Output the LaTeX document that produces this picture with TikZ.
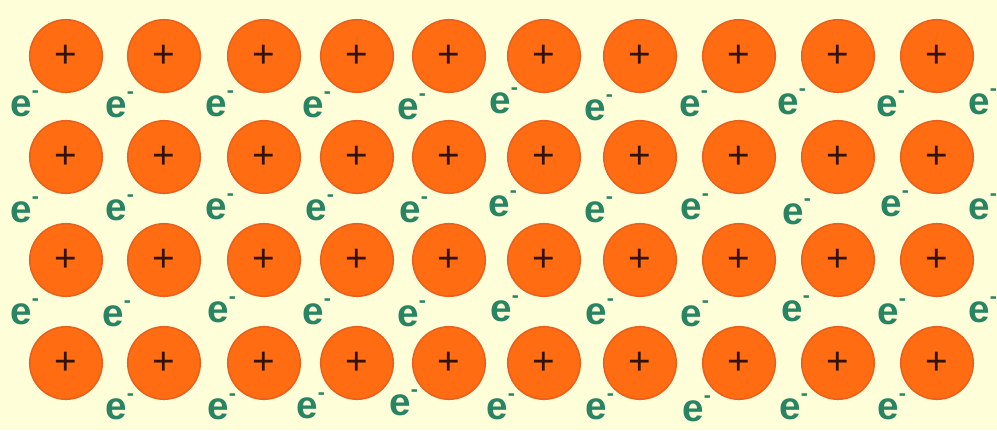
\documentclass[tikz,border=0pt]{standalone}
\usepackage{fontspec}
\setmainfont{Liberation Sans}
\definecolor{BgCream}{RGB}{254,254,217}
\definecolor{IonFill}{RGB}{255,108,18}
\definecolor{IonEdge}{RGB}{232,96,32}
\definecolor{PlusInk}{RGB}{48,18,6}
\definecolor{ElecInk}{RGB}{40,132,98}
\def\Rad{1.45cm}
\tikzset{
    ion/.style={
        circle, fill=IonFill, draw=IonEdge, line width=0.9pt,
        minimum size=\Rad, inner sep=0pt,
        text=PlusInk, font=\fontsize{22}{24}\selectfont
    },
    electron/.style={
        anchor=mid west, inner sep=0pt,
        text=ElecInk, font=\bfseries\fontsize{22}{24}\selectfont
    }
}
\newcommand{\elec}{e\raisebox{0.95ex}{\fontsize{12}{12}\selectfont -}}

\begin{document}
\begin{tikzpicture}[x=0.02cm, y=-0.02cm]
    \useasboundingbox (0,0) rectangle (997,430);
    \clip (0,0) rectangle (997,430);
    \fill[BgCream] (0,0) rectangle (997,430);

    % lattice of positive ions
    \foreach \yy [count=\r] in {56,157,260,363}{
        \foreach \xx [count=\c] in {66,164,264,357,449,544,640,739,838,937}{
            \node[ion] (ion\r-\c) at (\xx,\yy) {+};
        }
    }

    % sea of free electrons, one line at a time
    \foreach \xx/\yy [count=\k] in {10/112,105/113,205/112,302/113,397/115,489/109,584/116,679/112,777/110,876/112,968/110}
        \node[electron] (eA\k) at (\xx,\yy) {\elec};
    \foreach \xx/\yy [count=\k] in {10/218,105/216,205/215,305/216,399/218,488/212,584/218,680/215,782/220,880/212,968/215}
        \node[electron] (eB\k) at (\xx,\yy) {\elec};
    \foreach \xx/\yy [count=\k] in {10/320,102/322,207/318,302/320,397/322,490/317,585/320,680/322,781/317,877/320,968/318}
        \node[electron] (eC\k) at (\xx,\yy) {\elec};
    \foreach \xx/\yy [count=\k] in {105/415,207/415,296/414,389/411,486/415,585/415,682/417,779/415,877/415}
        \node[electron] (eD\k) at (\xx,\yy) {\elec};
\end{tikzpicture}
\end{document}
